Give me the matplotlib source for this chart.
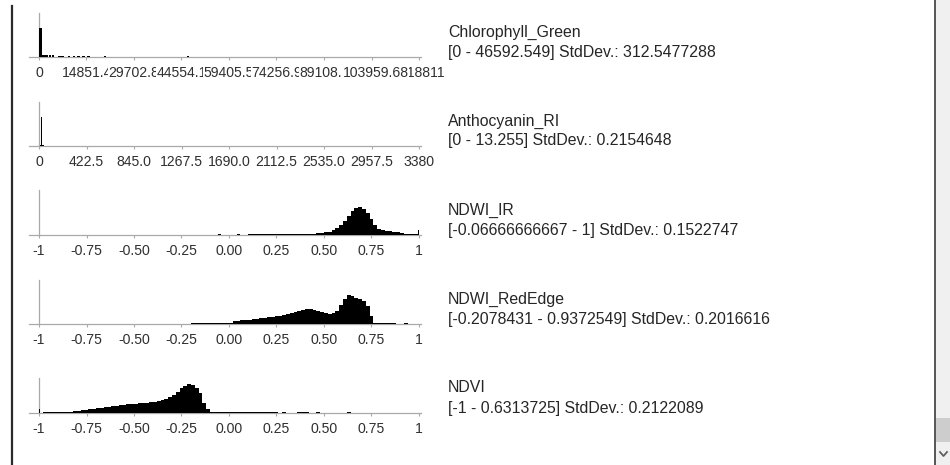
import matplotlib
matplotlib.use("Agg")
import matplotlib.pyplot as plt
from matplotlib.patches import Rectangle
from matplotlib.lines import Line2D
from matplotlib.transforms import offset_copy

plt.rcParams['font.family'] = ['Liberation Sans', 'DejaVu Sans']

# ---- data (bar heights in relative units) ----
band_names = ["Chlorophyll_Green", "Anthocyanin_RI", "NDWI_IR", "NDWI_RedEdge", "NDVI"]
band_stats = ["[0 - 46592.549] StdDev.: 312.5477288",
              "[0 - 13.255] StdDev.: 0.2154648",
              "[-0.06666666667 - 1] StdDev.: 0.1522747",
              "[-0.2078431 - 0.9372549] StdDev.: 0.2016616",
              "[-1 - 0.6313725] StdDev.: 0.2122089"]

# Chlorophyll_Green: sparse bins
chl_left = [0, 1000, 2000, 3000, 4000, 6000, 7000, 9000, 10500, 12000, 13500, 15000, 20300, 46200]
chl_counts = [29, 2, 2, 2, 2, 1.2, 1.2, 1.2, 1.2, 1.2, 1.2, 1.2, 1.2, 1.2]
chl_width = 800
chl_ticks = [0, 14851.38, 29702.76, 44554.14, 59405.52, 74256.90, 89108.28, 103959.68, 118811.05]
chl_ticklabels = ["0", "14851.43", "29702.86", "44554.14", "59405.52", "74256.90",
                  "89108.31", "103959.68", "118811"]

# Anthocyanin_RI
ari_left = [6, 18, 30]
ari_counts = [0.8, 29, 1.2]
ari_width = 12
ari_ticks = [0, 422.5, 845.0, 1267.5, 1690.0, 2112.5, 2535.0, 2957.5, 3380]
ari_ticklabels = ["0", "422.5", "845.0", "1267.5", "1690.0", "2112.5", "2535.0", "2957.5", "3380"]

# index bands: bins of 0.02
idx_width = 0.02
idx_ticks = [-1, -0.75, -0.5, -0.25, 0, 0.25, 0.5, 0.75, 1]
idx_ticklabels = ["-1", "-0.75", "-0.50", "-0.25", "0.00", "0.25", "0.50", "0.75", "1"]

ndwi_ir_start = -0.06
ndwi_ir_counts = [0.8, 0, 0, 0, 0, 0.8, 0, 0,
                  0.6, 0.6, 0.6, 0.6, 0.6, 0.6, 0.6, 0.6, 0.6,
                  0.6, 0.6, 0.6, 0.6, 0.6, 0.6, 0.6, 0.6, 0.6,
                  1.5, 2, 2.5, 3, 5, 7, 10, 14, 19, 24, 27, 28, 26, 22, 16, 10,
                  6, 4.5, 4, 3.5, 3, 2.5, 2, 1, 0.6, 0.6, 0.6]
ndwi_ir_spikes = [(0.994, 5)]

ndwi_re_start = -0.20
ndwi_re_counts = [0.6, 0.6, 0.6, 0.6, 0.6, 0.6, 0.6, 0.6, 0.6, 0.6,
                  1.5, 3, 3.5, 4, 4, 4.5, 5, 5.5, 6, 6.5, 7, 7.5, 8, 8.5, 9.5,
                  10, 11, 12, 13, 14, 15, 15, 14.5, 13, 12, 11, 10.5, 11, 13,
                  19, 25, 29, 28, 26, 25, 23, 18, 8, 1.5,
                  0.6, 0.6, 0.6, 0.6, 0.6, 0, 0, 1]
ndwi_re_spikes = []

ndvi_start = -0.98
ndvi_counts = [0.6, 0.6, 0.6, 0.6, 0.6, 0.6, 0.6, 0.6,
               2, 2.5, 3, 3.5, 4, 4.5, 5, 5.5, 6, 6.5, 7, 7.5, 8, 8.5, 9, 9,
               9.5, 10, 10, 10.5, 11, 11.5, 12, 13, 14, 16, 18, 21, 25, 27,
               29, 28, 25, 20, 10, 4, 1.5,
               0.6, 0.6, 0.6, 0.6, 0.6, 0.6, 0.6, 0.6, 0.6, 0.6, 0.6, 0.6,
               0.6, 0.6, 0.6, 0.6, 0.6,
               0, 0.8, 0, 0, 0, 0.8, 0.8, 0.8, 0, 0, 0.8,
               0, 0, 0, 0, 0, 0, 0, 0.8]
ndvi_spikes = [(-1.0, 4)]

W, H = 950, 465
fig = plt.figure(figsize=(W / 100, H / 100), dpi=100)
fig.patch.set_facecolor("white")

AXIS_GREY = "#a9a9a9"
TEXT_COL = "#262626"
TICK_FS = 10.1


def px_axes(x0, x1, y_top, y_bot):
    return fig.add_axes([x0 / W, 1 - y_bot / H, (x1 - x0) / W, (y_bot - y_top) / H])


def setup_axis(ax, lo, hi, origin, ymax, ticks, labels):
    # origin sits at px 39, hi at px 419; axes spans px 29..421
    per_px = (hi - lo) / 380.0
    ax.set_xlim(lo - 10 * per_px, hi + 2 * per_px)
    ax.set_ylim(0, ymax)
    ax.set_facecolor("none")
    for s in ("top", "right"):
        ax.spines[s].set_visible(False)
    ax.spines["left"].set_position(("data", origin))
    ax.spines["left"].set_color(AXIS_GREY)
    ax.spines["bottom"].set_color(AXIS_GREY)
    ax.spines["left"].set_linewidth(0.9)
    ax.spines["bottom"].set_linewidth(0.9)
    ax.set_yticks([])
    ax.set_xticks(ticks)
    if labels is not None:
        ax.set_xticklabels(labels)
    else:
        ax.set_xticklabels([])
    ax.tick_params(axis="x", direction="out", length=2, width=0.8, color=AXIS_GREY,
                   pad=4.6, labelsize=TICK_FS, labelcolor="#303030")


baselines = [57, 146, 235, 324, 413]
heights = [44, 44, 45, 44, 35]

# panel 1: Chlorophyll_Green
ax = px_axes(29, 421, baselines[0] - heights[0], baselines[0])
setup_axis(ax, 0, chl_ticks[-1], 0, heights[0], chl_ticks, None)
ax.bar(chl_left, chl_counts, width=chl_width, align="edge", color="black", linewidth=0, zorder=3)
# the widget paints its long labels over each other on an opaque background;
# the last label ends up underneath its neighbour
lab_tr = offset_copy(ax.get_xaxis_transform(), fig=fig, x=4, y=0, units="dots")
order = [len(chl_ticks) - 1] + list(range(len(chl_ticks) - 1))
for z, i in enumerate(order):
    tr = ax.get_xaxis_transform() if i == 0 else lab_tr
    ax.text(chl_ticks[i], -0.2, chl_ticklabels[i],
            transform=tr, ha="center", va="top",
            fontsize=TICK_FS, color="#303030", zorder=10 + z, clip_on=False,
            bbox=dict(facecolor="white", edgecolor="none", pad=0.3))

# panel 2: Anthocyanin_RI
ax = px_axes(29, 421, baselines[1] - heights[1], baselines[1])
setup_axis(ax, 0, 3380, 0, heights[1], ari_ticks, ari_ticklabels)
ax.bar(ari_left, ari_counts, width=ari_width, align="edge", color="black", linewidth=0, zorder=3)

# panels 3-5: index bands
idx_panels = [(ndwi_ir_start, ndwi_ir_counts, ndwi_ir_spikes),
              (ndwi_re_start, ndwi_re_counts, ndwi_re_spikes),
              (ndvi_start, ndvi_counts, ndvi_spikes)]
for k, (start, counts, spikes) in enumerate(idx_panels):
    p = k + 2
    ax = px_axes(29, 421, baselines[p] - heights[p], baselines[p])
    setup_axis(ax, -1, 1, -1, heights[p], idx_ticks, idx_ticklabels)
    lefts = [start + i * idx_width for i in range(len(counts))]
    ax.bar(lefts, counts, width=idx_width, align="edge", color="black", linewidth=0, zorder=3)
    if spikes:
        sx = [s[0] for s in spikes]
        sh = [s[1] for s in spikes]
        ax.bar(sx, sh, width=0.007, align="edge", color="black", linewidth=0, zorder=3)

# band captions on the right
for p in range(5):
    y1 = baselines[p] - 25
    fig.text(448 / W, 1 - y1 / H, band_names[p], ha="left", va="center",
             fontsize=11.4, color=TEXT_COL)
    fig.text(448 / W, 1 - (y1 + 20) / H, band_stats[p], ha="left", va="center",
             fontsize=11.4, color=TEXT_COL)

# window chrome: left frame line, right frame line, scrollbar
fig.add_artist(Line2D([11.5 / W, 11.5 / W], [0, 1 - 6 / H], transform=fig.transFigure,
                      color="#2b2b2b", linewidth=1.6))
fig.add_artist(Rectangle((935 / W, 0), 15 / W, 1, transform=fig.transFigure,
                         facecolor="#f0f0f0", edgecolor="none"))
fig.add_artist(Rectangle((936 / W, 1 - 442 / H), 14 / W, 24 / H, transform=fig.transFigure,
                         facecolor="#cdcdcd", edgecolor="none"))
fig.add_artist(Line2D([934.5 / W, 934.5 / W], [0, 1], transform=fig.transFigure,
                      color="#3a3a3a", linewidth=1.2))
fig.add_artist(Line2D([940 / W, 943.5 / W, 947 / W], [1 - 452 / H, 1 - 456 / H, 1 - 452 / H],
                      transform=fig.transFigure, color="#606060", linewidth=1.3))

fig.savefig("out.png", dpi=100, facecolor="white")
